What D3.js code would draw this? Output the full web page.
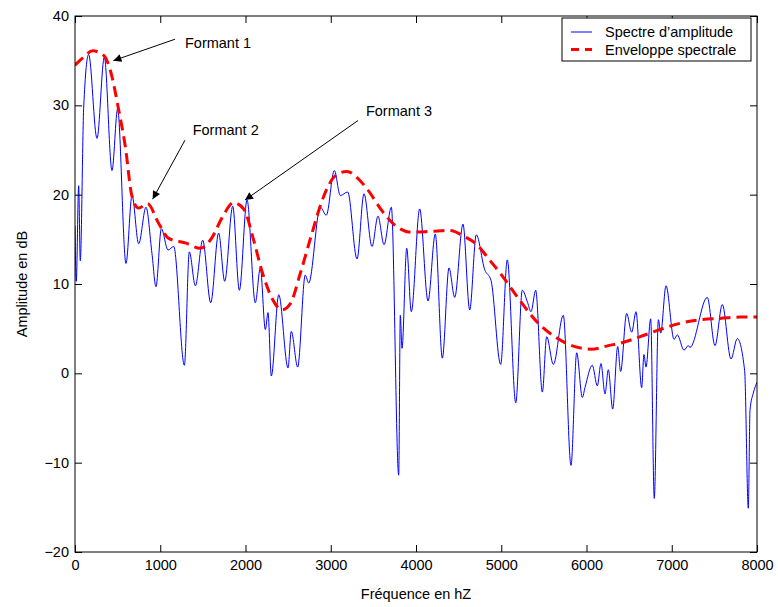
<!DOCTYPE html>
<html>
<head>
<meta charset="utf-8">
<script src="https://cdnjs.cloudflare.com/ajax/libs/d3/7.8.5/d3.min.js"></script>
<style>
  body { margin: 0; background: #fff; }
  text { font-family: 'Liberation Sans', Arial, Helvetica, sans-serif; }
</style>
</head>
<body>
<div id="graf"></div>
<script>
// Données : [fréquence en Hz, amplitude en dB]
spectre = [
  [0, 16.5], [15, 10.3], [43, 21.0], [62, 12.6], [102, 29.8], [160, 35.7],
  [258, 26.3], [344, 35.4], [434, 22.7], [500, 29.6], [598, 12.3], [669, 19.9],
  [747, 14.5], [833, 18.6], [903, 13.4], [950, 9.7], [1013, 16.2], [1091, 13.8],
  [1158, 14.2], [1283, 0.9], [1341, 13.6], [1412, 9.8], [1498, 14.9], [1592, 7.9],
  [1685, 15.7], [1756, 10.3], [1850, 18.7], [1928, 9.3], [2018, 19.4], [2115, 7.9],
  [2174, 11.8], [2233, 4.9], [2264, 6.8], [2303, -0.3], [2390, 8.8], [2499, 0.6],
  [2537, 4.7], [2612, 0.7], [2701, 11.0], [2741, 10.1], [2878, 18.6], [2948, 17.7],
  [3042, 22.7], [3112, 19.9], [3199, 20.3], [3308, 12.8], [3390, 20.1], [3484, 14.2],
  [3554, 17.6], [3625, 14.4], [3711, 18.6], [3797, -11.4], [3816, 6.5], [3836, 2.8],
  [3891, 14.0], [3945, 6.9], [4043, 18.4], [4141, 8.1], [4226, 15.6], [4309, 1.7],
  [4387, 11.8], [4454, 8.5], [4551, 16.7], [4630, 7.1], [4707, 15.5], [4806, 11.6],
  [4880, 10.4], [4993, 1.0], [5071, 12.7], [5170, -3.3], [5247, 9.3], [5310, 7.9],
  [5349, 6.9], [5404, 9.3], [5482, -2.1], [5533, 4.1], [5611, 1.0], [5728, 6.5],
  [5818, -10.3], [5885, 2.3], [5951, -2.7], [5982, -1.6], [6068, 0.9], [6127, -1.4],
  [6170, 1.1], [6217, -2.3], [6256, 0.4], [6307, -4.0], [6366, 3.0], [6400, 0.2],
  [6471, 6.7], [6530, 4.6], [6581, 6.9], [6647, -1.6], [6674, 2.1], [6698, 0.7],
  [6753, 6.1], [6795, -14.0], [6843, 6.0], [6870, 4.5], [6933, 9.8], [7027, 3.8],
  [7065, 4.3], [7144, 2.6], [7194, 3.1], [7213, 2.9], [7417, 8.5], [7507, 3.1],
  [7593, 7.7], [7695, 1.6], [7769, 3.9], [7855, 0.3], [7898, -15.1], [7918, -4.1],
  [7957, -2.2], [8000, -1.0]
]

enveloppe = [
  [0, 34.5], [100, 35.4], [207, 36.1], [336, 35.6], [434, 33.2], [504, 29.9],
  [590, 25.4], [669, 19.8], [747, 18.5], [850, 19.0], [981, 16.8], [1099, 15.1],
  [1294, 14.6], [1470, 14.0], [1607, 15.2], [1724, 17.4], [1861, 19.1], [1979, 18.4],
  [2096, 14.9], [2194, 11.4], [2311, 8.4], [2428, 7.1], [2526, 7.8], [2643, 11.2],
  [2780, 15.7], [2917, 19.8], [3053, 22.1], [3190, 22.6], [3320, 21.8], [3437, 20.5],
  [3593, 18.3], [3750, 16.6], [3945, 15.8], [4179, 15.9], [4395, 16.0], [4571, 15.3],
  [4727, 14.3], [4845, 12.9], [5005, 11.0], [5200, 8.4], [5455, 5.4], [5630, 4.1],
  [5826, 3.1], [6061, 2.7], [6256, 3.1], [6444, 3.5], [6628, 4.1], [6862, 4.9],
  [7097, 5.6], [7331, 6.0], [7566, 6.15], [7800, 6.3], [8000, 6.3]
]

xTicks = [0, 1000, 2000, 3000, 4000, 5000, 6000, 7000, 8000]
yTicks = [-20, -10, 0, 10, 20, 30, 40]

// formants : texte, position du texte, queue et pointe de la flèche
formants = [
  { nom: 'Formant 1', texte: [1290, 37.0], queue: [1173, 37.4], pointe: [450, 35.0] },
  { nom: 'Formant 2', texte: [1380, 27.3], queue: [1290, 26.1], pointe: [911, 19.5] },
  { nom: 'Formant 3', texte: [3413, 29.4], queue: [3320, 28.3], pointe: [1994, 19.4] }
]

legende = ['Spectre d\u2019amplitude', 'Enveloppe spectrale']

// I. Configuración
ancho_total = 778
alto_total = 607
margins = { top: 16, left: 75, right: 21, bottom: 55 }
ancho = ancho_total - margins.left - margins.right
alto = alto_total - margins.top - margins.bottom
fs = 14.5

svg = d3.select('#graf').append('svg')
  .attr('width', ancho_total)
  .attr('height', alto_total)

svg.append('defs').append('marker')
  .attr('id', 'fleche')
  .attr('viewBox', '0 0 10 10')
  .attr('refX', 10).attr('refY', 5)
  .attr('markerWidth', 11).attr('markerHeight', 8)
  .attr('markerUnits', 'userSpaceOnUse')
  .attr('orient', 'auto')
  .append('path')
  .attr('d', 'M0,0 L10,5 L0,10 Z')
  .attr('fill', 'black')

g = svg.append('g')
  .attr('transform', `translate(${margins.left}, ${margins.top})`)

g.append('clipPath').attr('id', 'clip')
  .append('rect').attr('width', ancho).attr('height', alto)

// Escaladores
x = d3.scaleLinear().domain([0, 8000]).range([0, ancho])
y = d3.scaleLinear().domain([-20, 40]).range([alto, 0])

linea = d3.line()
  .x(d => x(d[0]))
  .y(d => y(d[1]))
  .curve(d3.curveMonotoneX)

g.append('path')
  .datum(spectre)
  .attr('d', linea)
  .attr('fill', 'none')
  .attr('stroke', '#0000ff')
  .attr('stroke-width', 1)
  .attr('clip-path', 'url(#clip)')

g.append('path')
  .datum(enveloppe)
  .attr('d', linea)
  .attr('fill', 'none')
  .attr('stroke', '#ff0000')
  .attr('stroke-width', 3)
  .attr('stroke-dasharray', '11,6')
  .attr('clip-path', 'url(#clip)')

// ejes (ticks hacia adentro, caja completa)
tl = 7
ejes = [
  g.append('g').attr('transform', `translate(0,${alto})`)
    .call(d3.axisBottom(x).tickValues(xTicks).tickSizeInner(-tl).tickSizeOuter(0).tickPadding(8).tickFormat(d3.format('d'))),
  g.append('g')
    .call(d3.axisLeft(y).tickValues(yTicks).tickSizeInner(-tl).tickSizeOuter(0).tickPadding(6)),
  g.append('g')
    .call(d3.axisTop(x).tickValues(xTicks).tickSizeInner(-tl).tickSizeOuter(0).tickFormat('')),
  g.append('g').attr('transform', `translate(${ancho},0)`)
    .call(d3.axisRight(y).tickValues(yTicks).tickSizeInner(-tl).tickSizeOuter(0).tickFormat(''))
]
ejes.forEach(e => {
  e.select('.domain').remove()
  e.selectAll('line').attr('stroke', 'black')
  e.selectAll('text').attr('font-size', fs).attr('fill', 'black')
    .style('font-family', "'Liberation Sans', Arial, sans-serif")
})

g.append('rect')
  .attr('width', ancho).attr('height', alto)
  .attr('fill', 'none').attr('stroke', 'black').attr('stroke-width', 1)

// títulos de ejes
svg.append('text')
  .attr('x', margins.left + ancho / 2)
  .attr('y', 599)
  .attr('text-anchor', 'middle')
  .attr('font-size', fs)
  .text('Fréquence en hZ')

svg.append('text')
  .attr('transform', `translate(27, ${margins.top + alto / 2}) rotate(-90)`)
  .attr('text-anchor', 'middle')
  .attr('font-size', fs)
  .text('Amplitude en dB')

// anotaciones de formantes
f = g.selectAll('.formant').data(formants).enter().append('g')
f.append('line')
  .attr('x1', d => x(d.queue[0])).attr('y1', d => y(d.queue[1]))
  .attr('x2', d => x(d.pointe[0])).attr('y2', d => y(d.pointe[1]))
  .attr('stroke', 'black').attr('stroke-width', 1)
  .attr('marker-end', 'url(#fleche)')
f.append('text')
  .attr('x', d => x(d.texte[0])).attr('y', d => y(d.texte[1]))
  .attr('dy', '0.35em')
  .attr('font-size', fs)
  .text(d => d.nom)

// leyenda
lw = 189, lh = 43
leg = g.append('g').attr('transform', `translate(${ancho - lw - 6}, 2)`)
leg.append('rect')
  .attr('width', lw).attr('height', lh)
  .attr('fill', 'white').attr('stroke', 'black').attr('stroke-width', 1)
estilos = [{ c: '#0000ff', w: 1, dash: null }, { c: '#ff0000', w: 3, dash: '8,6' }]
legende.forEach((t, i) => {
  yy = 14 + i * 17.5
  leg.append('line')
    .attr('x1', 9).attr('x2', 30).attr('y1', yy).attr('y2', yy)
    .attr('stroke', estilos[i].c).attr('stroke-width', estilos[i].w)
    .attr('stroke-dasharray', estilos[i].dash)
  leg.append('text')
    .attr('x', 43).attr('y', yy).attr('dy', '0.35em')
    .attr('font-size', fs)
    .text(t)
})
</script>
</body>
</html>
